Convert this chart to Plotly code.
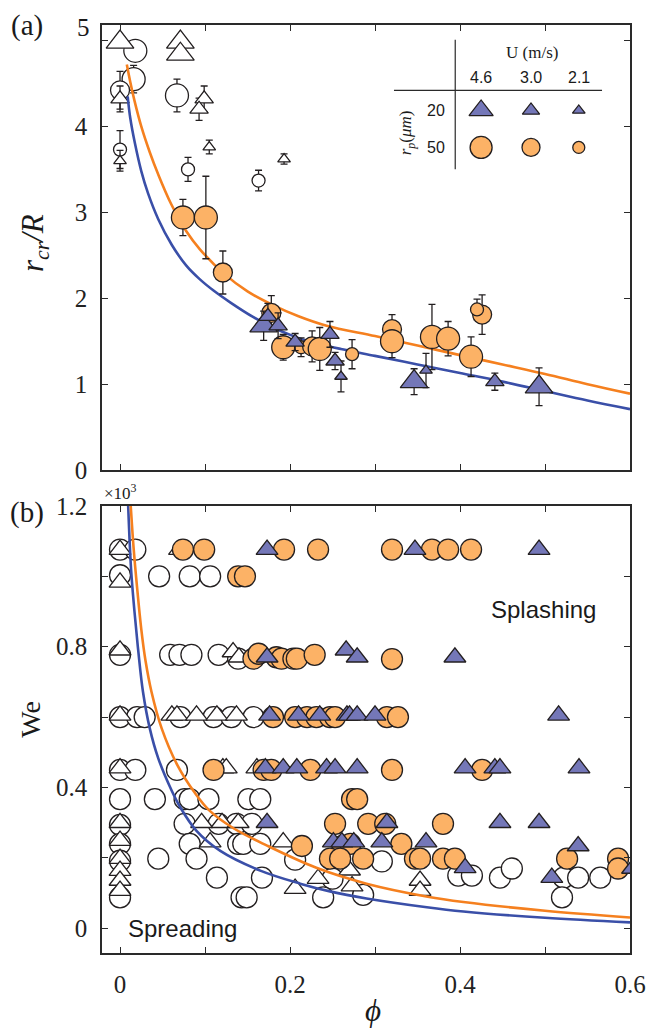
import plotly.graph_objects as go

# ---------------- Panel (a): r_cr/R vs phi ----------------
# open circles
a_oc_phi = [0.018, 0.016, 0.067, 0.0, 0.0, 0.080, 0.163]
a_oc_r   = [4.88, 4.55, 4.36, 4.42, 3.73, 3.50, 3.37]
a_oc_err = [0.0, 0.16, 0.19, 0.22, 0.22, 0.14, 0.12]
a_oc_U   = [4.6, 4.6, 4.6, 3.0, 2.1, 2.1, 2.1]
# open triangles
a_ot_phi = [0.0, 0.071, 0.071, 0.0, 0.099, 0.093, 0.0, 0.105, 0.193]
a_ot_r   = [4.98, 4.98, 4.84, 4.32, 4.32, 4.20, 3.60, 3.76, 3.62]
a_ot_err = [0.0, 0.0, 0.0, 0.15, 0.15, 0.13, 0.12, 0.08, 0.06]
a_ot_U   = [4.6, 4.6, 4.6, 3.0, 3.0, 3.0, 2.1, 2.1, 2.1]
# rp = 50 um (orange circles)
a_c50_phi = [0.074, 0.101, 0.121, 0.178, 0.192, 0.213, 0.226, 0.235, 0.273, 0.320, 0.320, 0.367, 0.386, 0.413, 0.426, 0.420]
a_c50_r   = [2.94, 2.94, 2.30, 1.83, 1.43, 1.43, 1.44, 1.41, 1.35, 1.64, 1.50, 1.55, 1.53, 1.32, 1.81, 1.87]
a_c50_err = [0.21, 0.48, 0.25, 0.20, 0.15, 0.11, 0.18, 0.25, 0.17, 0.17, 0.19, 0.38, 0.20, 0.23, 0.23, 0.12]
a_c50_U   = [4.6, 4.6, 3.0, 3.0, 4.6, 2.1, 3.0, 4.6, 2.1, 3.0, 4.6, 4.6, 4.6, 4.6, 3.0, 2.1]
# rp = 20 um (blue triangles)
a_t20_phi = [0.169, 0.174, 0.186, 0.206, 0.247, 0.253, 0.260, 0.346, 0.360, 0.441, 0.493]
a_t20_r   = [1.68, 1.79, 1.68, 1.49, 1.58, 1.27, 1.09, 1.03, 1.16, 1.03, 0.97]
a_t20_err = [0.17, 0.15, 0.15, 0.10, 0.15, 0.10, 0.18, 0.15, 0.20, 0.10, 0.22]
a_t20_U   = [4.6, 3.0, 3.0, 3.0, 3.0, 3.0, 2.1, 4.6, 2.1, 3.0, 4.6]
# model curves
a_blue_phi = [0.009, 0.012, 0.0176, 0.025, 0.033, 0.045, 0.061, 0.078, 0.094, 0.11, 0.13, 0.157, 0.18, 0.204, 0.23, 0.26, 0.30, 0.35, 0.40, 0.45, 0.50, 0.55, 0.60]
a_blue_r   = [4.35, 4.10, 3.80, 3.48, 3.22, 2.92, 2.62, 2.38, 2.22, 2.09, 1.95, 1.78, 1.66, 1.56, 1.48, 1.41, 1.33, 1.23, 1.13, 1.03, 0.92, 0.81, 0.71]
a_orng_phi = [0.008, 0.012, 0.017, 0.025, 0.035, 0.045, 0.060, 0.078, 0.094, 0.122, 0.15, 0.18, 0.21, 0.243, 0.30, 0.35, 0.404, 0.45, 0.50, 0.55, 0.60]
a_orng_r   = [4.72, 4.52, 4.30, 4.00, 3.70, 3.44, 3.10, 2.78, 2.57, 2.29, 2.08, 1.92, 1.79, 1.68, 1.56, 1.45, 1.33, 1.23, 1.12, 1.00, 0.89]

# ---------------- Panel (b): We vs phi (x10^3) ----------------
b_oc_phi = [0.0, 0.018,
            0.0, 0.046, 0.082, 0.106,
            0.0, 0.059, 0.070, 0.084, 0.116, 0.139,
            0.0, 0.020, 0.029, 0.071, 0.110, 0.131, 0.157,
            0.0, 0.018, 0.067,
            0.0, 0.041, 0.076, 0.082, 0.104, 0.151, 0.165,
            0.0, 0.076, 0.116, 0.137, 0.155,
            0.0, 0.082, 0.139, 0.145, 0.165,
            0.0, 0.045, 0.090, 0.206, 0.308,
            0.114, 0.167, 0.250, 0.398, 0.414, 0.447, 0.461, 0.522, 0.539, 0.565,
            0.0, 0.143, 0.149, 0.239, 0.286, 0.520]
b_oc_we  = [1.076, 1.076,
            1.003, 1.0, 1.0, 1.0,
            0.777, 0.777, 0.777, 0.777, 0.777, 0.766,
            0.60, 0.60, 0.60, 0.60, 0.60, 0.60, 0.60,
            0.45, 0.45, 0.45,
            0.367, 0.367, 0.367, 0.367, 0.367, 0.367, 0.367,
            0.294, 0.297, 0.297, 0.297, 0.297,
            0.24, 0.24, 0.24, 0.24, 0.24,
            0.192, 0.198, 0.198, 0.195, 0.19,
            0.144, 0.144, 0.141, 0.15, 0.15, 0.144, 0.17, 0.144, 0.144, 0.144,
            0.088, 0.088, 0.088, 0.088, 0.095, 0.088]
b_ot_phi = [0.0, 0.070, 0.0, 0.0, 0.133, 0.140,
            0.0, 0.061, 0.067, 0.090, 0.114, 0.137,
            0.0, 0.121, 0.125, 0.161,
            0.0, 0.096, 0.120, 0.139,
            0.0, 0.106, 0.192,
            0.0, 0.0, 0.0, 0.0,
            0.206, 0.233, 0.270, 0.273, 0.353, 0.353]
b_ot_we  = [1.076, 1.076, 0.983, 0.79, 0.785, 0.77,
            0.605, 0.605, 0.605, 0.605, 0.605, 0.605,
            0.455, 0.455, 0.455, 0.455,
            0.30, 0.30, 0.30, 0.30,
            0.249, 0.245, 0.245,
            0.198, 0.164, 0.136, 0.107,
            0.113, 0.141, 0.165, 0.12, 0.136, 0.107]
b_c50_phi = [0.074, 0.099, 0.193, 0.233, 0.320, 0.367, 0.386, 0.413,
             0.139, 0.147,
             0.157, 0.163, 0.184, 0.190, 0.204, 0.208, 0.229, 0.320,
             0.180, 0.206, 0.220, 0.231, 0.247, 0.253, 0.314, 0.327,
             0.110, 0.169, 0.178, 0.224, 0.320, 0.426,
             0.273, 0.279,
             0.253, 0.292, 0.312, 0.380,
             0.214, 0.262, 0.271, 0.331,
             0.247, 0.259, 0.286, 0.347, 0.353, 0.380, 0.394, 0.526, 0.586, 0.586]
b_c50_we  = [1.076, 1.076, 1.076, 1.076, 1.076, 1.076, 1.076, 1.076,
             1.0, 1.0,
             0.766, 0.78, 0.77, 0.766, 0.766, 0.766, 0.777, 0.765,
             0.60, 0.60, 0.60, 0.60, 0.60, 0.60, 0.60, 0.60,
             0.45, 0.45, 0.45, 0.45, 0.45, 0.45,
             0.367, 0.367,
             0.297, 0.297, 0.297, 0.297,
             0.234, 0.234, 0.24, 0.24,
             0.198, 0.198, 0.198, 0.198, 0.198, 0.198, 0.198, 0.198, 0.198, 0.17]
b_t20_phi = [0.173, 0.347, 0.493,
             0.173, 0.266, 0.279, 0.394,
             0.176, 0.210, 0.235, 0.267, 0.270, 0.279, 0.300, 0.516,
             0.171, 0.192, 0.208, 0.243, 0.253, 0.279, 0.406, 0.441, 0.447, 0.540,
             0.173, 0.314, 0.447, 0.493,
             0.251, 0.261, 0.275, 0.308, 0.360, 0.539,
             0.406, 0.508, 0.603]
b_t20_we  = [1.076, 1.076, 1.076,
             0.77, 0.79, 0.77, 0.77,
             0.605, 0.605, 0.605, 0.605, 0.605, 0.605, 0.605, 0.605,
             0.455, 0.455, 0.455, 0.455, 0.455, 0.455, 0.455, 0.455, 0.455, 0.455,
             0.30, 0.30, 0.30, 0.30,
             0.245, 0.245, 0.245, 0.245, 0.245, 0.234,
             0.172, 0.144, 0.17]
b_blue_phi = [0.0096, 0.013, 0.017, 0.0216, 0.027, 0.035, 0.045, 0.061, 0.0706, 0.09, 0.118, 0.165, 0.212, 0.247, 0.29, 0.361, 0.404, 0.50, 0.60]
b_blue_we  = [1.2, 1.02, 0.90, 0.785, 0.672, 0.568, 0.483, 0.39, 0.345, 0.277, 0.22, 0.164, 0.127, 0.105, 0.085, 0.06, 0.048, 0.03, 0.017]
b_orng_phi = [0.0126, 0.016, 0.020, 0.025, 0.030, 0.037, 0.049, 0.067, 0.088, 0.105, 0.133, 0.173, 0.231, 0.29, 0.362, 0.404, 0.50, 0.60]
b_orng_we  = [1.2, 1.08, 0.97, 0.85, 0.76, 0.672, 0.568, 0.466, 0.385, 0.335, 0.285, 0.235, 0.172, 0.127, 0.090, 0.075, 0.05, 0.031]

# legend table
leg_U = ["4.6", "3.0", "2.1"]
leg_rp = ["20", "50"]

# ---------------- styles ----------------
TRI_FILL = "#7477B8"
ORG_FILL = "#FCB266"
EDGE = "#231F20"
BLUE_LINE = "#3A4FA8"
ORANGE_LINE = "#F5801F"
AX = "#2a2a2a"
SERIF = "Liberation Serif, Times New Roman, serif"
SANS = "Liberation Sans, Arial, sans-serif"

circ_size = {4.6: 23, 3.0: 19, 2.1: 13}
tri_size = {4.6: 24, 3.0: 16, 2.1: 11}

fig = go.Figure()

def add_pts(x, y, symbol, fill, sizes, err=None, xa="x", ya="y"):
    kw = {}
    if err is not None:
        kw["error_y"] = dict(type="data", array=err, visible=True, color=EDGE, thickness=1.3, width=3.5)
    fig.add_trace(go.Scatter(
        x=x, y=y, mode="markers", xaxis=xa, yaxis=ya, showlegend=False, hoverinfo="skip",
        marker=dict(symbol=symbol, size=sizes, color=fill, opacity=1,
                    line=dict(color=EDGE, width=1.3)),
        **kw))

def add_line(x, y, color, xa="x", ya="y"):
    fig.add_trace(go.Scatter(x=x, y=y, mode="lines", xaxis=xa, yaxis=ya, showlegend=False,
                             hoverinfo="skip",
                             line=dict(color=color, width=2.6, shape="spline", smoothing=1.0)))

# panel (a)
add_pts(a_oc_phi, a_oc_r, "circle", "white", [circ_size[u] for u in a_oc_U], a_oc_err)
add_pts(a_ot_phi, a_ot_r, "triangle-up", "white", [tri_size[u] for u in a_ot_U], a_ot_err)
add_line(a_blue_phi, a_blue_r, BLUE_LINE)
add_line(a_orng_phi, a_orng_r, ORANGE_LINE)
add_pts(a_c50_phi, a_c50_r, "circle", ORG_FILL, [circ_size[u] for u in a_c50_U], a_c50_err)
add_pts(a_t20_phi, a_t20_r, "triangle-up", TRI_FILL, [tri_size[u] for u in a_t20_U], a_t20_err)

# panel (b)
add_pts(b_oc_phi, b_oc_we, "circle", "white", 21, xa="x2", ya="y2")
add_pts(b_ot_phi, b_ot_we, "triangle-up", "white", 19, xa="x2", ya="y2")
add_line(b_blue_phi, b_blue_we, BLUE_LINE, xa="x2", ya="y2")
add_line(b_orng_phi, b_orng_we, ORANGE_LINE, xa="x2", ya="y2")
add_pts(b_c50_phi, b_c50_we, "circle", ORG_FILL, 21, xa="x2", ya="y2")
add_pts(b_t20_phi, b_t20_we, "triangle-up", TRI_FILL, 19, xa="x2", ya="y2")

# legend table markers (own unit coordinate system over panel a)
col_x = [0.718, 0.8125, 0.903]
fig.add_trace(go.Scatter(x=col_x, y=[0.808] * 3, mode="markers", xaxis="x3", yaxis="y3",
                         showlegend=False, hoverinfo="skip",
                         marker=dict(symbol="triangle-up", size=[21, 15, 11], color=TRI_FILL, opacity=1,
                                     line=dict(color=EDGE, width=1.3))))
fig.add_trace(go.Scatter(x=col_x, y=[0.725] * 3, mode="markers", xaxis="x3", yaxis="y3",
                         showlegend=False, hoverinfo="skip",
                         marker=dict(symbol="circle", size=[22, 18, 12], color=ORG_FILL, opacity=1,
                                     line=dict(color=EDGE, width=1.3))))

xticks = [0, 0.1, 0.2, 0.3, 0.4, 0.5, 0.6]
common_x = dict(range=[-0.0212, 0.6], tickvals=xticks, ticks="inside", ticklen=6, tickwidth=1.2,
                tickcolor=AX, showline=True, linecolor=AX, linewidth=1.5, mirror="ticks",
                showgrid=False, zeroline=False, tickfont=dict(family=SERIF, size=25, color="#222"))

fig.update_layout(
    width=662, height=1030,
    margin=dict(l=102, r=32, t=19, b=77),
    paper_bgcolor="white", plot_bgcolor="white",
    xaxis=dict(domain=[0, 1], anchor="y", showticklabels=False, **common_x),
    xaxis2=dict(domain=[0, 1], anchor="y2",
                ticktext=["0", "", "0.2", "", "0.4", "", "0.6"], ticklabelstandoff=8, **common_x),
    yaxis=dict(domain=[0.5203, 1], anchor="x", range=[0, 5.18], tickvals=[0, 1, 2, 3, 4, 5],
               ticktext=["0", "1", "2", "3", "4", ""], ticks="inside", ticklen=6, tickwidth=1.2,
               tickcolor=AX, showline=True, linecolor=AX, linewidth=1.5, mirror="ticks",
               showgrid=False, zeroline=False, ticklabelstandoff=8,
               tickfont=dict(family=SERIF, size=25, color="#222")),
    yaxis2=dict(domain=[0, 0.4818], anchor="x2", range=[-0.07, 1.2],
                tickvals=[0, 0.2, 0.4, 0.6, 0.8, 1.0, 1.2],
                ticktext=["0", "", "0.4", "", "0.8", "", "1.2"], ticks="inside", ticklen=6,
                tickwidth=1.2, tickcolor=AX, showline=True, linecolor=AX, linewidth=1.5,
                mirror="ticks", showgrid=False, zeroline=False, ticklabelstandoff=8,
                tickfont=dict(family=SERIF, size=25, color="#222")),
    xaxis3=dict(overlaying="x", anchor="y3", range=[0, 1], visible=False),
    yaxis3=dict(overlaying="y", anchor="x3", range=[0, 1], visible=False),
)

ann = []
def A(text, x, y, size, family=SERIF, xref="paper", yref="paper", angle=0, xanchor="center", yanchor="middle", color="#1a1a1a"):
    ann.append(dict(text=text, x=x, y=y, xref=xref, yref=yref, showarrow=False, textangle=angle,
                    xanchor=xanchor, yanchor=yanchor, font=dict(family=family, size=size, color=color)))

# panel labels and axis titles
A("(a)", -0.142, 0.999, 29)
A("(b)", -0.142, 0.475, 29)
A("5", -0.019, 0.997, 25, xanchor="right")
A("<i>r</i><sub><i>cr</i></sub><i>/R</i>", -0.127, 0.765, 31, angle=-90)
A("We", -0.137, 0.252, 28, angle=-90)
A("<i>ϕ</i>", 0.513, -0.062, 31)
A("×10<sup>3</sup>", 0.0, 0.497, 17, xanchor="left")
A("Splashing", 0.498, 0.905, 24, family=SANS, xref="x2", yref="y2")
A("Spreading", 0.073, 0.0, 24, family=SANS, xref="x2", yref="y2")

# legend table text
A("U (m/s)", 0.814, 0.9375, 17, xref="x3", yref="y3")
for lab, cx in zip(leg_U, col_x):
    A(lab, cx, 0.882, 16, family=SANS, xref="x3", yref="y3")
for lab, cy in zip(leg_rp, [0.808, 0.725]):
    A(lab, 0.633, cy, 16, family=SANS, xref="x3", yref="y3")
A("<i>r</i><sub><i>p</i></sub>(<i>μm</i>)", 0.578, 0.757, 17, xref="x3", yref="y3", angle=-90)
fig.update_layout(annotations=ann)

# legend table rules
fig.add_shape(type="line", xref="x3", yref="y3", x0=0.669, x1=0.669, y0=0.676, y1=0.967,
              line=dict(color=AX, width=1.2))
fig.add_shape(type="line", xref="x3", yref="y3", x0=0.553, x1=0.947, y0=0.853, y1=0.853,
              line=dict(color=AX, width=1.2))

fig.write_html("out.html", config={"displayModeBar": False},
               post_script="document.body.style.margin='0';document.body.style.padding='0';document.body.style.overflow='hidden';")
